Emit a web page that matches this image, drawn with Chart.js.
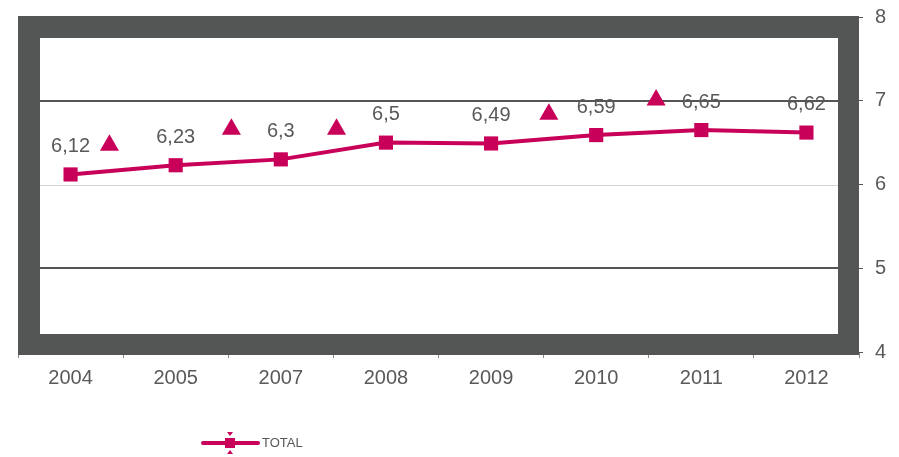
<!DOCTYPE html>
<html><head><meta charset="utf-8">
<script src="https://cdn.jsdelivr.net/npm/chart.js@4/dist/chart.umd.min.js"></script>
<style>html,body{margin:0;padding:0;background:#fff}#wrap{width:899px;height:457px}</style>
</head><body><div id="wrap"><canvas id="c" width="899" height="457"></canvas></div>
<script>
const categories = ['2004','2005','2007','2008','2009','2010','2011','2012'];
const totalValues = [6.12,6.23,6.3,6.5,6.49,6.59,6.65,6.62];
const totalLabels = ['6,12','6,23','6,3','6,5','6,49','6,59','6,65','6,62'];
const triangleX = [0.37,1.53,2.53,4.55,5.57];
const triangleValues = [6.47,6.66,6.66,6.84,7.01];
const yMin = 4, yMax = 8;
const darkGridValues = [5,7];
const lightGridValues = [6];
const legendLabel = 'TOTAL';

const FONT = "'Liberation Sans', Arial, sans-serif";
const MAIN = '#C8005A';
const FRAME = '#545655';
const TEXT = '#595959';

const framePlugin = {
  id: 'frame',
  beforeDatasetsDraw(chart) {
    const {ctx, chartArea: a, scales} = chart;
    const y = scales.y;
    ctx.save();
    const L = a.left, R = a.right, T = a.top - 1, B = a.bottom + 3;
    ctx.fillStyle = FRAME;
    ctx.fillRect(L, T, R - L, B - T);
    const iL = L + 22, iR = R - 21, iT = T + 22, iB = B - 21;
    ctx.fillStyle = '#ffffff';
    ctx.fillRect(iL, iT, iR - iL, iB - iT);
    lightGridValues.forEach(v => {
      const py = Math.round(y.getPixelForValue(v)) + 0.5;
      ctx.strokeStyle = '#d4d4d4'; ctx.lineWidth = 1;
      ctx.beginPath(); ctx.moveTo(iL, py); ctx.lineTo(iR, py); ctx.stroke();
    });
    darkGridValues.forEach(v => {
      const py = Math.round(y.getPixelForValue(v));
      ctx.strokeStyle = '#555555'; ctx.lineWidth = 2;
      ctx.beginPath(); ctx.moveTo(iL, py); ctx.lineTo(iR, py); ctx.stroke();
    });
    ctx.restore();
  }
};

const labelPlugin = {
  id: 'vlabels',
  afterDatasetsDraw(chart) {
    const {ctx} = chart;
    const meta = chart.getDatasetMeta(0);
    ctx.save();
    ctx.font = '20px ' + FONT;
    ctx.fillStyle = TEXT;
    ctx.textAlign = 'center';
    ctx.textBaseline = 'middle';
    meta.data.forEach((pt, i) => {
      ctx.fillText(totalLabels[i], pt.x, pt.y - 28);
    });
    ctx.restore();
  }
};

const legendPlugin = {
  id: 'customLegend',
  afterDraw(chart) {
    const {ctx} = chart;
    ctx.save();
    const y = 443, x0 = 203, x1 = 258, cx = 230;
    ctx.strokeStyle = MAIN; ctx.lineWidth = 4; ctx.lineCap = 'round';
    ctx.beginPath(); ctx.moveTo(x0, y); ctx.lineTo(x1, y); ctx.stroke();
    ctx.fillStyle = MAIN;
    ctx.fillRect(cx - 5, y - 5, 10, 10);
    ctx.beginPath(); ctx.moveTo(cx - 3, y - 11); ctx.lineTo(cx + 3, y - 11); ctx.lineTo(cx, y - 7); ctx.closePath(); ctx.fill();
    ctx.beginPath(); ctx.moveTo(cx - 3, y + 11); ctx.lineTo(cx + 3, y + 11); ctx.lineTo(cx, y + 7); ctx.closePath(); ctx.fill();
    ctx.font = '13px ' + FONT;
    ctx.fillStyle = TEXT;
    ctx.textAlign = 'left'; ctx.textBaseline = 'middle';
    ctx.fillText(legendLabel, 262, y);
    ctx.restore();
  }
};

new Chart(document.getElementById('c'), {
  data: {
    labels: categories,
    datasets: [
      {
        type: 'line', label: legendLabel, data: totalValues, xAxisID: 'x', yAxisID: 'y',
        borderColor: MAIN, borderWidth: 4, tension: 0,
        pointStyle: 'rect', pointRadius: 10, pointHoverRadius: 10,
        pointBackgroundColor: MAIN, pointBorderColor: MAIN, pointBorderWidth: 0
      },
      {
        type: 'scatter', label: 'marks', xAxisID: 'xt', yAxisID: 'y',
        data: triangleX.map((x, i) => ({x: x, y: triangleValues[i]})),
        showLine: false, pointStyle: 'triangle', pointRadius: 11, pointHoverRadius: 11,
        pointBackgroundColor: MAIN, pointBorderColor: MAIN, pointBorderWidth: 0
      }
    ]
  },
  options: {
    responsive: false, animation: false, devicePixelRatio: 1,
    layout: {padding: {left: 18, right: 0, top: 17, bottom: 0}},
    plugins: {legend: {display: false}, tooltip: {enabled: false}},
    scales: {
      x: {
        type: 'category', position: 'bottom', offset: true,
        grid: {display: true, drawOnChartArea: false, drawTicks: true, tickLength: 6, color: '#888888', offset: true},
        border: {display: false},
        ticks: {font: {family: FONT, size: 20}, color: TEXT, padding: 8, maxRotation: 0},
        afterFit(s) { s.height = 105; s.paddingLeft = 0; s.paddingRight = 0; }
      },
      xt: {type: 'linear', display: false, min: -0.5, max: 7.5},
      y: {
        position: 'right', min: yMin, max: yMax,
        grid: {display: true, drawOnChartArea: false, drawTicks: true, tickLength: 4, color: '#555555'},
        border: {display: false},
        ticks: {stepSize: 1, font: {family: FONT, size: 20}, color: TEXT, padding: 12},
        afterFit(s) { s.width = 40; s.paddingTop = 0; s.paddingBottom = 0; }
      }
    }
  },
  plugins: [framePlugin, labelPlugin, legendPlugin]
});
</script>
</body></html>
